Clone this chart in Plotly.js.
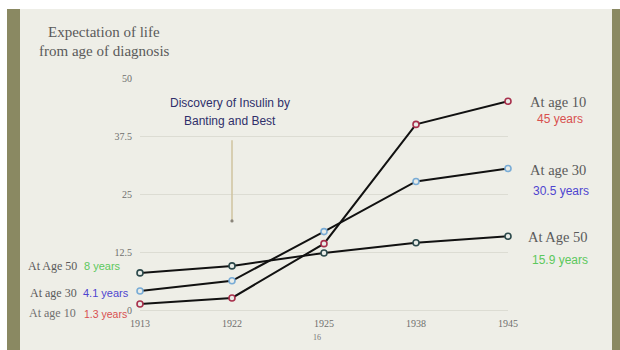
<!DOCTYPE html>
<html>
<head>
<meta charset="utf-8">
<script src="https://cdn.plot.ly/plotly-3.0.1.min.js"></script>
<style>html,body{margin:0;padding:0;background:#fff;}#chart{width:620px;height:350px;}</style>
</head>
<body>
<div id="chart"></div>
<script>
// ---- data ----
var years = ['1913', '1922', '1925', '1938', '1945'];
var age10 = [1.3, 2.6, 14.3, 40.0, 45];
var age30 = [4.1, 6.3, 16.9, 27.7, 30.5];
var age50 = [8, 9.5, 12.3, 14.5, 15.9];
var yTickVals = [0, 12.5, 25, 37.5, 50];
var yTickText = ['0', '12.5', '25', '37.5', '50'];

// ---- layout geometry ----
var W = 620, H = 350;
var M = {l: 140, r: 112, t: 78, b: 40};
var PW = W - M.l - M.r, PH = H - M.t - M.b;
function px(x) { return (x - M.l) / PW; }
function py(y) { return (H - M.b - y) / PH; }

var serif = 'Liberation Serif, Georgia, serif';
var sans = 'Liberation Sans, Arial, sans-serif';
var grayText = '#5a5a5a';
var red = '#d8504f', blue = '#4f45d0', green = '#5cc85c';

function series(vals, mcol) {
  return {
    x: years, y: vals, type: 'scatter', mode: 'lines+markers',
    line: {color: '#111111', width: 2},
    marker: {size: 6, color: '#e9ece8', line: {color: mcol, width: 1.6}},
    cliponaxis: false, hoverinfo: 'skip', showlegend: false
  };
}
var traces = [
  series(age50, '#2d4a4c'),
  series(age30, '#79acd6'),
  series(age10, '#a8304c')
];

function ann(text, x, y, font, size, color, xanchor) {
  return {text: text, xref: 'paper', yref: 'paper', x: px(x), y: py(y),
    xanchor: xanchor || 'center', yanchor: 'middle', showarrow: false,
    font: {family: font, size: size, color: color}};
}

var last = years.length - 1;
var annotations = [
  ann('Expectation of life', 104, 32, serif, 15, grayText),
  ann('from age of diagnosis', 104, 51, serif, 15, grayText),
  ann('Discovery of Insulin by', 230, 103, sans, 12, '#2f2f6a'),
  ann('Banting and Best', 230, 121, sans, 12, '#2f2f6a'),
  // right labels
  ann('At age 10', 558, 102, serif, 14.5, grayText),
  ann(age10[last] + ' years', 560, 119, sans, 12, red),
  ann('At age 30', 558, 170, serif, 14.5, grayText),
  ann(age30[last] + ' years', 561, 191, sans, 12, blue),
  ann('At Age 50', 558, 237, serif, 14.5, grayText),
  ann(age50[last] + ' years', 560, 260, sans, 12, green),
  // left labels
  ann('At Age 50', 79, 266, serif, 12, grayText, 'right'),
  ann(age50[0] + ' years', 82, 266, sans, 11, green, 'left'),
  ann('At age 30', 79, 293, serif, 12, grayText, 'right'),
  ann(age30[0] + ' years', 81, 293, sans, 11, blue, 'left'),
  ann('At age 10', 78, 313, serif, 12, '#707070', 'right'),
  ann(age10[0] + ' years', 82, 314, sans, 10.5, red, 'left'),
  // slide number
  ann('16', 317, 337, serif, 8, '#777777')
];

var shapes = [
  {type: 'rect', xref: 'paper', yref: 'paper', x0: px(20), x1: px(612), y0: py(9), y1: py(H),
   fillcolor: '#eeeee7', line: {width: 0}, layer: 'below'},
  {type: 'rect', xref: 'paper', yref: 'paper', x0: px(7), x1: px(20), y0: py(9), y1: py(H),
   fillcolor: '#8a8962', line: {width: 0}, layer: 'below'},
  {type: 'rect', xref: 'paper', yref: 'paper', x0: px(612), x1: px(W), y0: py(9), y1: py(H),
   fillcolor: '#8a8962', line: {width: 0}, layer: 'below'},
  // insulin arrow
  {type: 'line', xref: 'x', yref: 'y', x0: 1, x1: 1, y0: 36.6, y1: 19.2,
   line: {color: '#cfc39f', width: 1.5}},
  {type: 'circle', xref: 'x', yref: 'y', xsizemode: 'pixel', ysizemode: 'pixel',
   xanchor: 1, yanchor: 19.2, x0: -1.6, x1: 1.6, y0: -1.6, y1: 1.6,
   fillcolor: '#8a857a', line: {width: 0}}
];

var layout = {
  width: W, height: H,
  margin: M,
  paper_bgcolor: '#ffffff',
  plot_bgcolor: 'rgba(0,0,0,0)',
  showlegend: false,
  xaxis: {type: 'category', range: [0, years.length - 1], showgrid: false, zeroline: false,
    showline: false, ticks: '', ticklabelstandoff: 6,
    tickfont: {family: serif, size: 10, color: '#6e6e6e'}},
  yaxis: {range: [0, 50], tickvals: yTickVals, ticktext: yTickText, showgrid: true,
    gridcolor: '#dcdcd3', gridwidth: 1, zeroline: true, zerolinecolor: '#dcdcd3', zerolinewidth: 1,
    showline: false, ticks: '', ticklabelstandoff: 7,
    tickfont: {family: serif, size: 10, color: '#6e6e6e'}},
  annotations: annotations,
  shapes: shapes
};

Plotly.newPlot('chart', traces, layout, {staticPlot: true, displayModeBar: false});
</script>
</body>
</html>
